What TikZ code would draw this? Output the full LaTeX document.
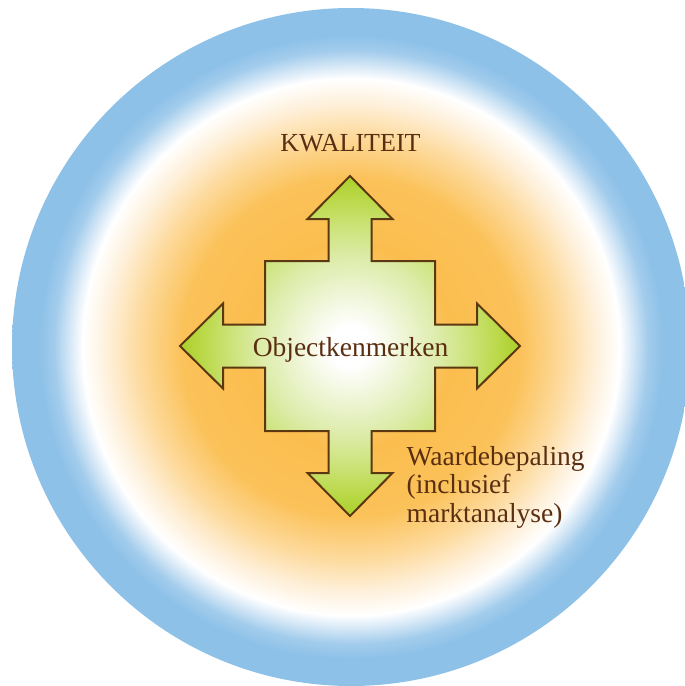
\documentclass[tikz,border=0pt]{standalone}
\usepackage{fontspec}
\setmainfont{Liberation Serif}
\definecolor{bgA}{HTML}{FDE2A6}
\definecolor{bgB}{HTML}{FBBD4E}
\definecolor{bgC}{HTML}{FBC25A}
\definecolor{bgD}{HTML}{FDD99A}
\definecolor{bgE}{HTML}{FEF0DA}
\definecolor{bgF}{HTML}{FFFFFF}
\definecolor{bgG}{HTML}{CFE4F5}
\definecolor{bgH}{HTML}{A2CCEC}
\definecolor{bgI}{HTML}{8EC1E8}
\definecolor{crA}{HTML}{FFFFFF}
\definecolor{crB}{HTML}{EEF5D5}
\definecolor{crC}{HTML}{DDECAA}
\definecolor{crD}{HTML}{CBE275}
\definecolor{crE}{HTML}{B9D846}
\definecolor{crF}{HTML}{AACF2A}
\definecolor{txtbrown}{HTML}{5A2E10}
\definecolor{edgebrown}{HTML}{5B3812}
\pgfdeclareradialshading{bgshade}{\pgfpoint{0bp}{0bp}}{%
  color(0bp)=(bgA); color(7.5bp)=(bgB); color(12.5bp)=(bgC); color(15.5bp)=(bgD);
  color(18bp)=(bgE); color(19.8bp)=(bgF); color(20.9bp)=(bgG); color(21.9bp)=(bgH);
  color(23bp)=(bgI); color(50bp)=(bgI)}
\pgfdeclareradialshading{crossshade}{\pgfpoint{0bp}{0bp}}{%
  color(0bp)=(crA); color(3bp)=(crA); color(8bp)=(crB); color(13bp)=(crC);
  color(18bp)=(crD); color(22bp)=(crE); color(25bp)=(crF); color(50bp)=(crF)}
\tikzset{
  lbl/.style={inner sep=0pt, text=txtbrown, font=\fontsize{27.5}{28.5}\selectfont},
  crossshape/.style={draw=edgebrown, line width=2pt, line join=miter, shading=crossshade}
}
\begin{document}
\begin{tikzpicture}[x=1pt, y=-1pt]
\useasboundingbox (0,0) rectangle (685,686);
\shade[shading=bgshade] (351,347) circle[radius=339];
\def\a{21.5}\def\s{85}\def\h{42.5}\def\b{127}\def\t{170}
\begin{scope}[shift={(350,346)}]
\path[crossshape]
  (0,-\t) -- (\h,-\b) -- (\a,-\b) -- (\a,-\s) -- (\s,-\s) -- (\s,-\a) -- (\b,-\a) -- (\b,-\h)
  -- (\t,0) -- (\b,\h) -- (\b,\a) -- (\s,\a) -- (\s,\s) -- (\a,\s) -- (\a,\b) -- (\h,\b)
  -- (0,\t) -- (-\h,\b) -- (-\a,\b) -- (-\a,\s) -- (-\s,\s) -- (-\s,\a) -- (-\b,\a) -- (-\b,\h)
  -- (-\t,0) -- (-\b,-\h) -- (-\b,-\a) -- (-\s,-\a) -- (-\s,-\s) -- (-\a,-\s) -- (-\a,-\b) -- (-\h,-\b)
  -- cycle;
\end{scope}
\node[lbl, anchor=base, font=\fontsize{26}{28.5}\selectfont] (kwal) at (350.5,151.5) {KWALITEIT};
\node[lbl, anchor=base] (obj) at (350.5,356) {Objectkenmerken};
\node[lbl, anchor=base west, align=left] (waarde) at (406.5,522) {Waardebepaling\\(inclusief\\marktanalyse)};
\end{tikzpicture}
\end{document}
